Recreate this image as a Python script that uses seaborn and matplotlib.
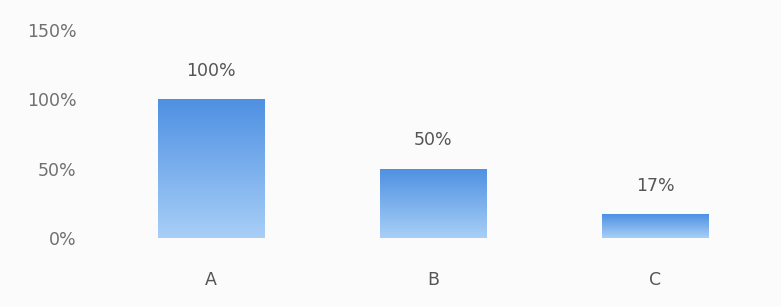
import numpy as np
import pandas as pd
import matplotlib
matplotlib.use('Agg')
import matplotlib.pyplot as plt
import seaborn as sns
from matplotlib.colors import LinearSegmentedColormap
from matplotlib.ticker import FuncFormatter

# Data
categories = ['A', 'B', 'C']
values = [100, 50, 17]
y_ticks = [0, 50, 100, 150]

df = pd.DataFrame({'cat': categories, 'val': values})

sns.set_style('white')
plt.rcParams['font.family'] = ['DejaVu Sans']

fig = plt.figure(figsize=(7.81, 3.07), dpi=100, facecolor='#fbfbfb')
ax = fig.add_axes([0.128, 0.225, 0.853, 0.6775])
ax.set_facecolor('#fbfbfb')

sns.barplot(data=df, x='cat', y='val', ax=ax, width=0.48, color='#6aa6ea')

# gradient fill: darker blue on top, light blue at the bottom
grad = LinearSegmentedColormap.from_list('bar', ['#a8cff7', '#4e90e2'])
g = np.linspace(0, 1, 256).reshape(-1, 1)
for p in ax.patches:
    x0, y0 = p.get_x(), p.get_y()
    w, h = p.get_width(), p.get_height()
    p.set_facecolor('none')
    p.set_edgecolor('none')
    im = ax.imshow(g, cmap=grad, aspect='auto', origin='lower',
                   extent=[x0, x0 + w, y0, y0 + h], zorder=2)
    im.set_clip_path(p)
    ax.annotate(f'{int(round(h))}%', (x0 + w / 2, y0 + h), xytext=(0, 14),
                textcoords='offset points', ha='center', va='bottom',
                fontsize=12.5, color='#555555')

ax.set_xlim(-0.5, 2.5)
ax.set_ylim(0, 150)
ax.set_yticks(y_ticks)
ax.yaxis.set_major_formatter(FuncFormatter(lambda v, _: f'{int(v)}%'))
ax.set_xlabel('')
ax.set_ylabel('')
ax.tick_params(axis='y', length=0, pad=17, labelsize=12.5, labelcolor='#707070')
ax.tick_params(axis='x', length=0, pad=24, labelsize=12.5, labelcolor='#555555')
sns.despine(ax=ax, left=True, bottom=True)

plt.savefig('out.png', dpi=100, facecolor=fig.get_facecolor())
